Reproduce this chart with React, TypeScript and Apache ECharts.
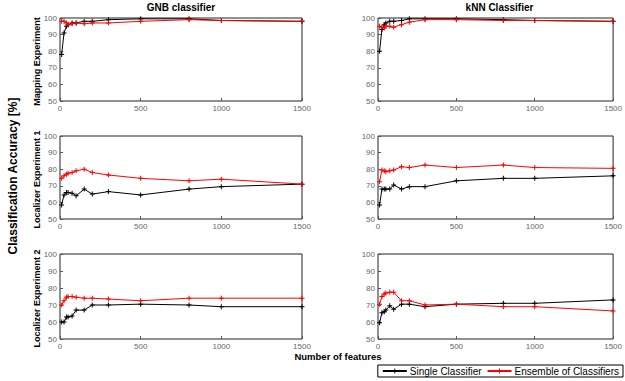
import React, { useEffect, useRef } from "react";
import * as echarts from "echarts";

const featureCounts = [10, 25, 40, 50, 75, 100, 150, 200, 300, 500, 800, 1000, 1500];
const columnTitles = ["GNB classifier", "kNN Classifier"];
const rowTitles = ["Mapping Experiment", "Localizer Experiment 1", "Localizer Experiment 2"];
const seriesNames = ["Single Classifier", "Ensemble of Classifiers"];

const gnbMapSingle = [78, 91, 95, 96, 97, 97, 98, 98, 99, 99.5, 99.5, 98.5, 98];
const gnbMapEnsemble = [98, 98, 97, 96, 96.5, 97, 96.5, 97, 97, 98, 99, 98.5, 98];
const knnMapSingle = [80, 93, 96, 97, 98, 98, 98.5, 99.5, 99.5, 99.5, 99, 98.5, 98];
const knnMapEnsemble = [95, 94.5, 94, 95, 95, 94.5, 96, 97.5, 99, 99, 98.5, 98.5, 98];
const gnbLoc1Single = [58.5, 64.5, 66, 66, 65.5, 64, 68, 65, 66.5, 64.5, 68, 69.5, 71];
const gnbLoc1Ensemble = [74.5, 76, 77, 77.5, 78, 79, 80, 78, 76.5, 74.5, 73, 74, 71];
const knnLoc1Single = [58.5, 68, 68, 68, 68, 70.5, 68, 69.5, 69.5, 73, 74.5, 74.5, 76];
const knnLoc1Ensemble = [72.5, 79.5, 79, 78.5, 79, 79.5, 81.5, 81, 82.5, 81, 82.5, 81, 80.5];
const gnbLoc2Single = [60, 60, 63, 63, 63.5, 67, 67, 70, 70, 70.5, 70, 69, 69];
const gnbLoc2Ensemble = [70, 72.5, 74.5, 75, 75, 74.5, 74, 74, 73.5, 72.5, 74, 74, 74];
const knnLoc2Single = [59.5, 65.5, 66, 67, 69.5, 67.5, 70.5, 70.5, 69, 70.5, 71, 71, 73];
const knnLoc2Ensemble = [70.5, 75, 76.5, 77, 77.5, 77.5, 72.5, 72.5, 70, 70.5, 69, 69, 66.5];

const panels = [
  [gnbMapSingle, gnbMapEnsemble],
  [knnMapSingle, knnMapEnsemble],
  [gnbLoc1Single, gnbLoc1Ensemble],
  [knnLoc1Single, knnLoc1Ensemble],
  [gnbLoc2Single, gnbLoc2Ensemble],
  [knnLoc2Single, knnLoc2Ensemble],
];

const FONT = "'Liberation Sans', Arial, sans-serif";
const PLUS = "path://M4,0H6V4H10V6H6V10H4V6H0V4H4Z";

export default function App() {
  const ref = useRef<HTMLDivElement>(null);
  useEffect(() => {
    if (!ref.current) return;
    const chart = echarts.init(ref.current, undefined, { renderer: "svg" });
    const lefts = [60, 378];
    const widths = [242, 243];
    const tops = [18, 136, 254];
    const heights = [83, 83, 85];
    const grids: any[] = [];
    const xAxes: any[] = [];
    const yAxes: any[] = [];
    const series: any[] = [];
    const colors = ["#000000", "#ff0000"];
    panels.forEach((pair, i) => {
      const row = Math.floor(i / 2);
      const col = i % 2;
      grids.push({
        left: lefts[col],
        top: tops[row],
        width: widths[col],
        height: heights[row],
        show: true,
        borderColor: "#222",
        borderWidth: 1,
        containLabel: false,
      });
      xAxes.push({
        type: "value",
        gridIndex: i,
        min: 0,
        max: 1500,
        interval: 500,
        axisLine: { show: false },
        axisTick: { show: true, inside: true, length: 3, lineStyle: { color: "#555" } },
        splitLine: { show: false },
        axisLabel: {
          fontSize: 8,
          color: "#666",
          fontFamily: FONT,
          margin: 3,
          showMaxLabel: true,
          formatter: (v: number) => String(v),
        },
      });
      yAxes.push({
        type: "value",
        gridIndex: i,
        min: 50,
        max: 100,
        interval: 10,
        axisLine: { show: false },
        axisTick: { show: true, inside: true, length: 3, lineStyle: { color: "#555" } },
        splitLine: { show: false },
        axisLabel: { fontSize: 8, color: "#666", fontFamily: FONT, margin: 3 },
      });
      pair.forEach((vals, k) => {
        series.push({
          type: "line",
          name: seriesNames[k],
          xAxisIndex: i,
          yAxisIndex: i,
          data: featureCounts.map((x, j) => [x, vals[j]]),
          symbol: PLUS,
          symbolSize: 5,
          showSymbol: true,
          lineStyle: { color: colors[k], width: 1 },
          itemStyle: { color: colors[k] },
          z: k === 1 ? 3 : 2,
        });
      });
    });
    const graphic: any[] = [];
    columnTitles.forEach((t, c) => {
      graphic.push({
        type: "text",
        x: lefts[c] + widths[c] / 2,
        y: 7,
        style: { text: t, font: `bold 10px ${FONT}`, fill: "#000", align: "center", verticalAlign: "middle" },
      });
    });
    rowTitles.forEach((t, r) => {
      graphic.push({
        type: "text",
        x: 37,
        y: tops[r] + heights[r] / 2 + 2,
        rotation: Math.PI / 2,
        style: { text: t, font: `bold 9px ${FONT}`, fill: "#000", align: "center", verticalAlign: "middle" },
      });
    });
    graphic.push({
      type: "text",
      x: 13,
      y: 176,
      rotation: Math.PI / 2,
      style: { text: "Classification Accuracy [%]", font: `bold 12px ${FONT}`, fill: "#000", align: "center", verticalAlign: "middle" },
    });
    graphic.push({
      type: "text",
      x: 338,
      y: 356,
      style: { text: "Number of features", font: `bold 9.5px ${FONT}`, fill: "#000", align: "center", verticalAlign: "middle" },
    });
    chart.setOption({
      animation: false,
      backgroundColor: "#fff",
      grid: grids,
      xAxis: xAxes,
      yAxis: yAxes,
      series,
      graphic,
      legend: {
        data: seriesNames,
        orient: "horizontal",
        right: 2,
        top: 365,
        itemWidth: 24,
        itemHeight: 6,
        itemGap: 5,
        padding: [1, 4, 1, 4],
        borderColor: "#000",
        borderWidth: 1,
        textStyle: { fontSize: 10, color: "#000", fontFamily: FONT, padding: [0, 0, 0, -2] },
      },
    });
    return () => chart.dispose();
  }, []);
  return <div ref={ref} style={{ width: 625, height: 381, position: "absolute", left: 0, top: 0 }} />;
}
